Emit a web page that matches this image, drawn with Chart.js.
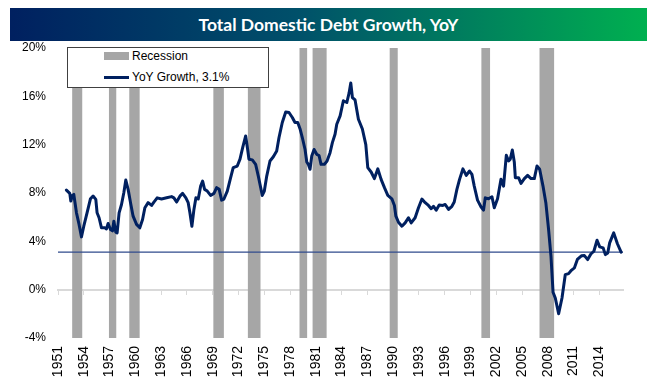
<!DOCTYPE html>
<html><head><meta charset="utf-8">
<script src="https://cdn.jsdelivr.net/npm/chart.js@4"></script>
<style>
html,body{margin:0;padding:0;background:#fff;}
#wrap{position:relative;width:656px;height:387px;overflow:hidden;}
#c{position:absolute;left:0;top:0;}
#title{position:absolute;left:10px;top:8px;width:637px;height:33px;background:linear-gradient(to right,#002060 0%,#00506a 45%,#00b050 100%);color:#fff;font:bold 17.5px Lato, "Liberation Sans", sans-serif;text-align:center;line-height:33px;}
#legend{position:absolute;left:67px;top:47px;width:200px;height:39px;border:1px solid #404040;background:#fff;font:12px "Liberation Sans",sans-serif;color:#000;}
.sw1{position:absolute;left:36px;top:4px;width:25px;height:8px;background:#a6a6a6;}
.sw2{position:absolute;left:36px;top:28px;width:25px;height:3px;background:#002060;}
.t1{position:absolute;left:64px;top:1px;line-height:14px;}
.t2{position:absolute;left:64px;top:22px;line-height:14px;}
</style></head>
<body>
<div id="wrap">
<canvas id="c" width="656" height="387"></canvas>
<div id="title">Total Domestic Debt Growth, YoY</div>
<div id="legend">
  <div class="sw1"></div><div class="t1">Recession</div>
  <div class="sw2"></div><div class="t2">YoY Growth, 3.1%</div>
</div>
</div>
<script>
// ---- data ----
const tickYears = [1951,1954,1957,1960,1963,1966,1969,1972,1975,1978,1981,1984,1987,1990,1993,1996,1999,2002,2005,2008,2011,2014];
const recessionStart = [1952.64,1956.91,1959.28,1969.06,1973.07,1979.08,1980.60,1989.57,2000.25,2007.01];
const recessionEnd   = [1953.85,1957.81,1960.52,1970.31,1974.59,1980.02,1982.28,1990.55,2001.30,2008.76];
const latestGrowth = 3.1;
const years = [1951.98,1952.37,1952.49,1952.68,1952.84,1953.15,1953.45,1953.73,1954.00,1954.38,1954.78,1955.08,1955.40,1955.55,1955.78,1956.06,1956.45,1956.64,1956.83,1957.11,1957.34,1957.50,1957.73,1957.88,1958.11,1958.39,1958.66,1958.89,1959.16,1959.44,1959.74,1960.14,1960.52,1960.84,1961.11,1961.49,1961.89,1962.16,1962.54,1963.05,1963.64,1964.22,1964.49,1964.80,1965.19,1965.50,1965.88,1966.15,1966.35,1966.58,1966.82,1967.05,1967.32,1967.60,1967.83,1968.06,1968.37,1968.76,1969.15,1969.46,1969.76,1970.04,1970.31,1970.70,1971.09,1971.39,1971.86,1972.18,1972.49,1972.84,1973.07,1973.22,1973.61,1974.00,1974.31,1974.59,1974.77,1975.01,1975.29,1975.67,1976.06,1976.45,1976.72,1977.10,1977.50,1977.88,1978.27,1978.58,1978.90,1979.17,1979.43,1979.75,1979.95,1980.13,1980.33,1980.53,1980.80,1981.11,1981.38,1981.61,1982.00,1982.31,1982.66,1982.93,1983.24,1983.44,1983.83,1984.21,1984.61,1984.87,1985.07,1985.26,1985.57,1985.96,1986.42,1986.82,1987.05,1987.44,1987.82,1988.22,1988.60,1988.99,1989.38,1989.85,1990.15,1990.32,1990.62,1991.02,1991.40,1991.78,1992.10,1992.56,1992.95,1993.35,1993.73,1994.11,1994.43,1994.70,1995.01,1995.36,1995.79,1996.06,1996.45,1996.84,1997.11,1997.42,1997.73,1998.12,1998.51,1998.89,1999.17,1999.44,1999.82,2000.22,2000.52,2000.72,2001.10,2001.50,2001.77,2002.15,2002.55,2002.85,2003.17,2003.44,2003.63,2003.87,2004.10,2004.22,2004.60,2004.88,2005.27,2005.65,2006.05,2006.43,2006.74,2007.05,2007.44,2007.77,2008.09,2008.37,2008.61,2008.87,2009.26,2009.65,2010.03,2010.42,2010.74,2011.09,2011.44,2011.91,2012.26,2012.64,2013.01,2013.36,2013.73,2014.04,2014.43,2014.70,2014.97,2015.20,2015.67,2016.10,2016.53];
const growth = [8.24,7.97,7.33,7.80,7.88,6.36,5.40,4.37,5.25,6.36,7.53,7.75,7.47,6.36,5.95,5.12,5.12,5.03,5.48,4.98,4.87,5.67,4.76,4.70,6.36,7.05,8.02,9.07,8.30,7.20,6.08,5.40,5.12,5.80,6.78,7.20,6.97,7.25,7.60,7.50,7.60,7.70,7.60,7.25,7.74,7.97,7.60,7.20,6.36,5.25,6.64,7.60,7.50,8.57,8.99,8.30,8.16,7.80,7.97,8.44,8.30,7.41,7.50,8.16,9.27,10.10,10.23,10.80,11.76,12.72,11.60,10.80,10.74,10.37,9.40,8.44,7.80,8.16,9.40,10.65,11.00,11.48,12.59,13.83,14.70,14.66,14.25,13.83,13.83,13.30,12.59,11.60,10.57,10.37,9.96,11.06,11.60,11.20,11.10,10.37,10.37,10.65,11.34,12.17,12.86,13.69,14.38,15.63,15.49,16.26,17.10,15.90,15.70,14.10,13.30,12.00,10.10,9.74,9.19,10.00,9.13,8.44,7.80,7.52,6.97,6.08,5.58,5.25,5.53,5.95,5.53,5.95,6.78,7.50,7.20,6.97,6.70,6.90,6.58,7.00,6.97,7.05,6.64,6.90,7.25,8.30,9.13,10.00,9.46,9.82,9.54,8.57,7.41,6.86,6.58,7.60,7.52,7.69,6.78,7.52,9.13,8.57,11.12,10.65,10.80,11.56,10.57,9.27,9.27,8.80,9.19,9.46,9.19,9.19,10.23,9.96,8.57,7.20,4.98,2.76,-0.22,-0.69,-1.99,-0.69,1.24,1.33,1.60,1.80,2.50,2.80,2.82,2.49,2.95,3.18,4.09,3.54,3.46,2.90,3.04,3.87,4.70,3.80,3.10];
const X_MIN = 1951, X_MAX = 2016.75, Y_MIN = -4, Y_MAX = 20, Y_STEP = 4;

// ---- datasets ----
const recessionSets = recessionStart.map((s, i) => ({
  type: 'line',
  data: [{x: s, y: Y_MAX}, {x: recessionEnd[i], y: Y_MAX}],
  borderColor: 'rgba(0,0,0,0)', borderWidth: 0, pointRadius: 0,
  backgroundColor: '#a6a6a6', fill: {value: Y_MIN}, order: 3
}));
const refLine = {
  type: 'line',
  data: [{x: X_MIN, y: latestGrowth}, {x: X_MAX, y: latestGrowth}],
  borderColor: '#2f4a8c', borderWidth: 1.3, pointRadius: 0, fill: false, order: 2
};
const mainLine = {
  type: 'line',
  data: years.map((y, i) => ({x: y, y: growth[i]})),
  borderColor: '#002060', borderWidth: 3, pointRadius: 0, fill: false,
  tension: 0, borderJoinStyle: 'round', borderCapStyle: 'round', order: 1
};
const setTicks = s => { s.ticks = tickYears.map(v => ({value: v})); };

new Chart(document.getElementById('c'), {
  type: 'line',
  data: { datasets: [...recessionSets, refLine, mainLine] },
  options: {
    responsive: false, animation: false, devicePixelRatio: 1,
    layout: { padding: { left: 0, right: 33, top: 48, bottom: 0 } },
    plugins: { legend: { display: false }, tooltip: { enabled: false }, title: { display: false } },
    scales: {
      x: {
        type: 'linear', min: X_MIN, max: X_MAX, position: 'bottom',
        afterBuildTicks: setTicks,
        afterFit: s => { s.height = 49; },
        grid: { display: false, drawTicks: false }, border: { display: false },
        ticks: { autoSkip: false, minRotation: 90, maxRotation: 90, padding: 8,
          color: '#000', font: { family: 'Liberation Sans', size: 14 },
          callback: v => String(v) }
      },
      x2: {
        type: 'linear', min: X_MIN, max: X_MAX, position: { y: 0 },
        afterBuildTicks: setTicks,
        grid: { drawOnChartArea: false, drawTicks: true, tickLength: 4, color: '#d9d9d9', lineWidth: 1 },
        border: { display: true, color: '#d9d9d9', width: 2 },
        ticks: { display: false }
      },
      y: {
        min: Y_MIN, max: Y_MAX,
        afterFit: s => { s.width = 58; },
        grid: { display: false, drawTicks: false }, border: { display: false },
        ticks: { stepSize: Y_STEP, padding: 12, color: '#000',
          font: { family: 'Liberation Sans', size: 12 },
          callback: v => v + '%' }
      }
    }
  }
});
</script>
</body></html>
